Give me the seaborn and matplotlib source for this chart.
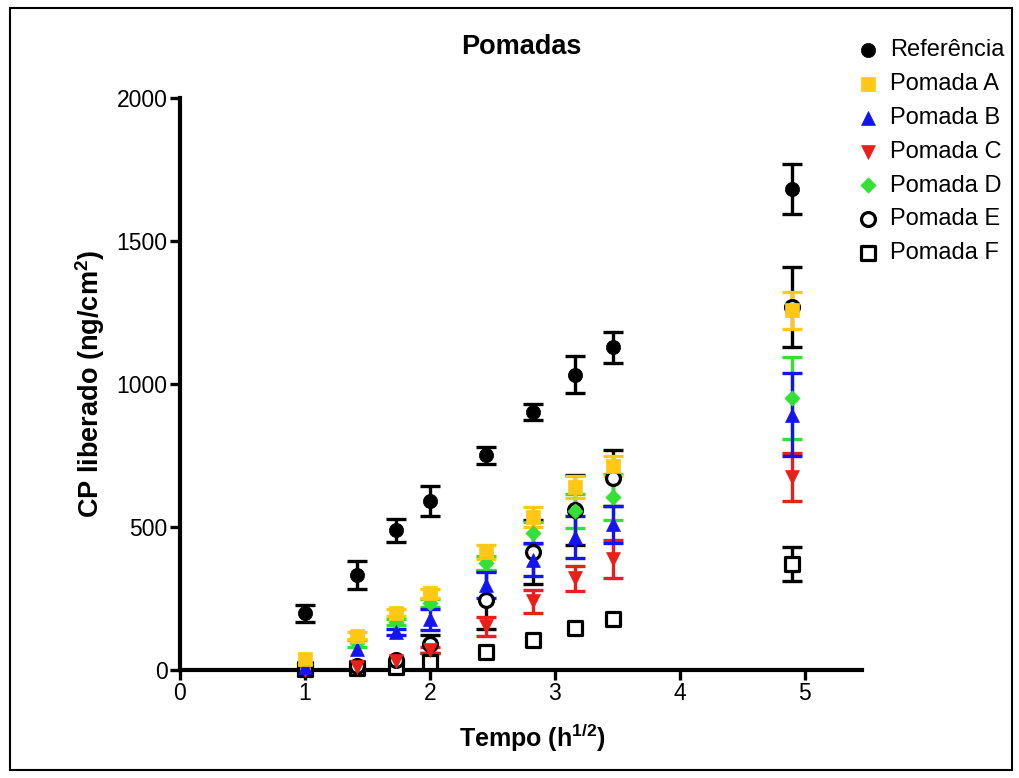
import numpy as np
import pandas as pd
import matplotlib
matplotlib.use("Agg")
import matplotlib.pyplot as plt
import seaborn as sns
from matplotlib.patches import Rectangle

# ---- data ----
hours = [1, 2, 3, 4, 6, 8, 10, 12, 24]
x_vals = list(np.sqrt(hours))

series_names = ["Referência", "Pomada A", "Pomada B", "Pomada C",
                "Pomada D", "Pomada E", "Pomada F"]

ref = [199, 332, 488, 592, 750, 903, 1033, 1128, 1682]
ref_err = [30, 48, 40, 52, 30, 28, 65, 55, 87]
pom_a = [38, 120, 200, 268, 413, 535, 640, 712, 1257]
pom_a_err = [0, 12, 12, 15, 25, 35, 38, 35, 63]
pom_b = [10, 73, 133, 177, 297, 385, 465, 510, 893]
pom_b_err = [0, 0, 10, 37, 45, 58, 73, 65, 145]
pom_c = [0, 12, 33, 70, 153, 240, 320, 388, 675]
pom_c_err = [0, 0, 0, 12, 33, 40, 45, 65, 84]
pom_d = [20, 94, 168, 234, 374, 479, 556, 605, 951]
pom_d_err = [0, 12, 12, 15, 25, 40, 60, 80, 143]
pom_e = [3, 14, 35, 92, 245, 412, 559, 671, 1268]
pom_e_err = [0, 0, 0, 32, 100, 113, 122, 98, 140]
pom_f = [2, 6, 12, 28, 63, 105, 147, 178, 370]
pom_f_err = [0, 0, 0, 0, 0, 0, 0, 0, 60]

x_ticks = [0, 1, 2, 3, 4, 5]
y_ticks = [0, 500, 1000, 1500, 2000]

values = [ref, pom_a, pom_b, pom_c, pom_d, pom_e, pom_f]
errors = [ref_err, pom_a_err, pom_b_err, pom_c_err, pom_d_err, pom_e_err, pom_f_err]

colors = ["black", "#FFC814", "#1414F0", "#E8201A", "#33E033", "black", "black"]
markers = ["o", "s", "^", "v", "D", "o", "s"]
filled = [True, True, True, True, True, False, False]
sizes = [105, 90, 100, 100, 60, 100, 90]

# ---- style ----
sns.set_theme(style="ticks")
plt.rcParams["font.family"] = ["Liberation Sans", "DejaVu Sans"]
plt.rcParams["mathtext.fontset"] = "custom"
plt.rcParams["mathtext.rm"] = "Liberation Sans:bold"
plt.rcParams["mathtext.default"] = "rm"
plt.rcParams["text.color"] = "black"
plt.rcParams["axes.labelcolor"] = "black"

fig = plt.figure(figsize=(10.2, 7.78), dpi=100)
ax = fig.add_axes([180 / 1020, 1 - 670 / 778, (862 - 180) / 1020, (670 - 98) / 778])

handles = {}
n = len(series_names)
for i in reversed(range(n)):
    name = series_names[i]
    df = pd.DataFrame({"x": x_vals, "y": values[i], "err": errors[i]})
    dfe = df[df["err"] > 0]
    if len(dfe):
        ax.errorbar(dfe["x"], dfe["y"], yerr=dfe["err"], fmt="none",
                    ecolor=colors[i], elinewidth=2.4, capsize=7, capthick=2.4,
                    clip_on=False, zorder=2 + (n - i) * 0.1)
    if filled[i]:
        kw = dict(color=colors[i], edgecolor=colors[i], linewidth=0.5)
    else:
        kw = dict(facecolor="white", edgecolor=colors[i], linewidth=2.3)
    sc = sns.scatterplot(data=df, x="x", y="y", marker=markers[i], s=sizes[i],
                         ax=ax, label=name, clip_on=False,
                         zorder=3 + (n - i) * 0.1, **kw)
    handles[name] = sc.collections[-1]

ax.set_xlim(0, 5.46)
ax.set_ylim(0, 2000)
ax.set_xticks(x_ticks)
ax.set_yticks(y_ticks)
ax.tick_params(axis="both", which="major", labelsize=16.5, length=7, width=2.4,
               direction="out", color="black", labelcolor="black", pad=2)
for side in ["left", "bottom"]:
    ax.spines[side].set_linewidth(3)
    ax.spines[side].set_color("black")
sns.despine(ax=ax)

ax.set_xlabel(r"Tempo (h$^{1/2}$)", fontsize=18, fontweight="bold", labelpad=16)
ax.xaxis.set_label_coords((532 - 180) / 682, -0.09)
ax.set_ylabel(r"CP liberado (ng/cm$^{2}$)", fontsize=19.5, fontweight="bold", labelpad=7)
ax.set_title("Pomadas", fontsize=19.5, fontweight="bold", pad=32, color="black")

if ax.get_legend() is not None:
    ax.get_legend().remove()

leg_handles = [handles[nm] for nm in series_names]
fig.legend(leg_handles, series_names, loc="upper left",
           bbox_to_anchor=(844 / 1020, 1 - 30 / 778), frameon=False,
           fontsize=17, labelspacing=0.5, handletextpad=0.35,
           handlelength=1.2, borderaxespad=0)

fig.patches.append(Rectangle((10 / 1020, 8 / 778), 1002 / 1020, 762 / 778,
                             transform=fig.transFigure, fill=False,
                             edgecolor="black", linewidth=1.5))

fig.savefig("out.png", dpi=100)
